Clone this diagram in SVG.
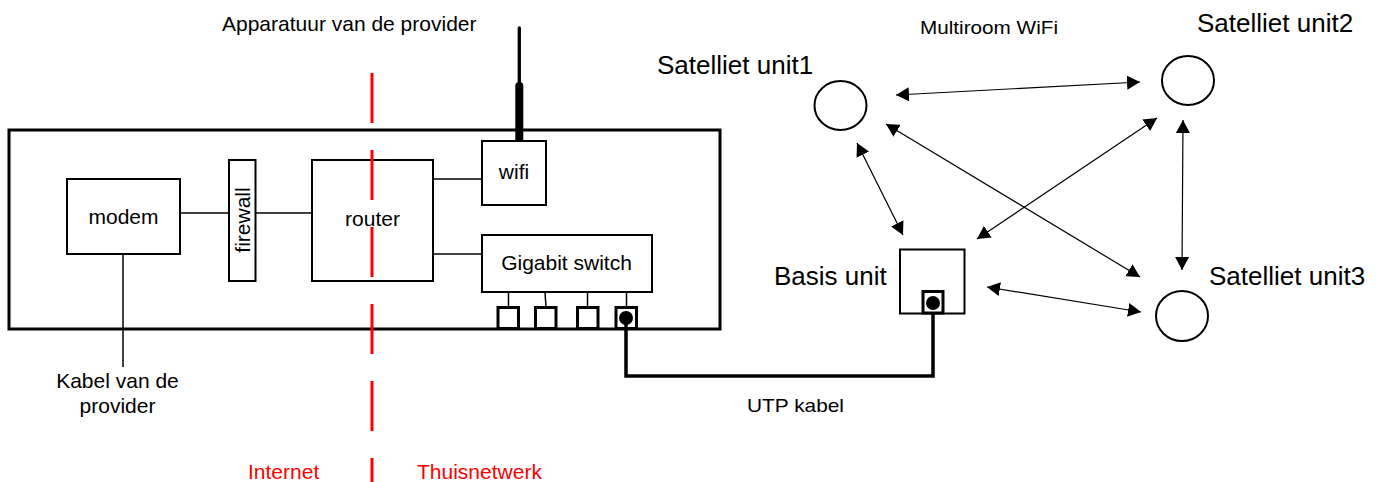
<svg xmlns="http://www.w3.org/2000/svg" width="1383" height="482" viewBox="0 0 1383 482">
<style>
  text { font-family: "Liberation Sans", Arial, sans-serif; fill: #000; }
  .t21 { font-size: 21px; }
  .t26 { font-size: 26px; }
  .red { fill: #ff0000; }
  .box { fill: #fff; stroke: #000; stroke-width: 2; }
  .thin { stroke: #000; stroke-width: 1.5; fill: none; }
  .port { fill: #fff; stroke: #000; stroke-width: 3; }
  .arrow { stroke: #000; stroke-width: 1.2; fill: none; marker-start: url(#ah); marker-end: url(#ah); }
  .sat { fill: #fff; stroke: #000; stroke-width: 2; }
</style>
<defs>
  <marker id="ah" markerUnits="userSpaceOnUse" markerWidth="14" markerHeight="14" viewBox="0 0 14 14" refX="13" refY="7" orient="auto-start-reverse">
    <path d="M0,0 L13,7 L0,14 Z" fill="#000"/>
  </marker>
</defs>
<rect width="1383" height="482" fill="#fff"/>

<text class="t21" x="222" y="31">Apparatuur van de provider</text>

<g id="provider-box">
  <rect x="9" y="130" width="711" height="199" fill="none" stroke="#000" stroke-width="3"/>
</g>

<g id="connectors-inner">
  <line class="thin" x1="180" y1="213" x2="229" y2="213"/>
  <line class="thin" x1="255" y1="213" x2="312" y2="213"/>
  <line class="thin" x1="433" y1="179" x2="482" y2="179"/>
  <line class="thin" x1="433" y1="254" x2="482" y2="254"/>
  <line class="thin" x1="123" y1="254" x2="123" y2="367"/>
  <line class="thin" x1="508.5" y1="292" x2="508.5" y2="307"/>
  <line class="thin" x1="545" y1="292" x2="546" y2="307"/>
  <line class="thin" x1="587.5" y1="292" x2="587.5" y2="307"/>
  <line class="thin" x1="626.5" y1="292" x2="626.5" y2="307"/>
</g>

<g id="antenna">
  <line x1="519.3" y1="28" x2="519.3" y2="90" stroke="#000" stroke-width="3.3" stroke-linecap="round"/>
  <line x1="519.3" y1="86" x2="519.3" y2="141" stroke="#000" stroke-width="8" stroke-linecap="round"/>
</g>

<g id="modem">
  <rect class="box" x="67" y="179" width="113" height="75"/>
  <text class="t21" x="123.5" y="224" text-anchor="middle">modem</text>
</g>
<g id="firewall">
  <rect class="box" x="229" y="160" width="26.5" height="121"/>
  <text class="t21" transform="translate(249.5,220) rotate(-90)" text-anchor="middle">firewall</text>
</g>
<g id="router">
  <rect class="box" x="312" y="160" width="121" height="121"/>
  <text class="t21" x="372.5" y="226" text-anchor="middle">router</text>
</g>
<g id="wifi">
  <rect class="box" x="482" y="141" width="64" height="64"/>
  <text class="t21" x="514" y="179" text-anchor="middle">wifi</text>
</g>
<g id="gigabit-switch">
  <rect class="box" x="482" y="235" width="170" height="57"/>
  <text class="t21" x="566.5" y="270" text-anchor="middle">Gigabit switch</text>
</g>
<g id="ports">
  <rect class="port" x="498" y="307.5" width="20.5" height="21"/>
  <rect class="port" x="535.5" y="307.5" width="20.5" height="21"/>
  <rect class="port" x="577.5" y="307.5" width="20.5" height="21"/>
  <rect class="port" x="616" y="307.5" width="20.5" height="21"/>
  <circle cx="626" cy="318" r="7" fill="#000"/>
</g>

<g id="divider">
  <line x1="372" y1="73" x2="372" y2="482" stroke="#ff0000" stroke-width="3" stroke-dasharray="50 27"/>
  <text class="t21 red" x="248" y="479">Internet</text>
  <text class="t21 red" x="417" y="479">Thuisnetwerk</text>
</g>

<text class="t21" x="117.5" y="388" text-anchor="middle">Kabel van de</text>
<text class="t21" x="117.5" y="413" text-anchor="middle">provider</text>

<g id="utp-cable">
  <polyline points="626,318 626,376 933,376 933,303" fill="none" stroke="#000" stroke-width="3.5" stroke-linejoin="miter"/>
  <text x="747" y="412" font-size="19" textLength="97" lengthAdjust="spacingAndGlyphs">UTP kabel</text>
</g>

<g id="basis-unit">
  <rect class="box" x="900" y="249.5" width="64.5" height="64"/>
  <rect class="port" x="923" y="291.5" width="20" height="21.5"/>
  <circle cx="933" cy="303" r="7" fill="#000"/>
  <text class="t26" x="774" y="285">Basis unit</text>
</g>

<g id="satelliet-unit1">
  <ellipse class="sat" cx="840.5" cy="105.5" rx="26" ry="24.5"/>
  <text class="t26" x="657" y="74">Satelliet unit1</text>
</g>
<g id="satelliet-unit2">
  <ellipse class="sat" cx="1188" cy="80.5" rx="26" ry="24.5"/>
  <text class="t26" x="1197" y="32">Satelliet unit2</text>
</g>
<g id="satelliet-unit3">
  <ellipse class="sat" cx="1182" cy="316" rx="26" ry="25"/>
  <text class="t26" x="1209" y="285">Satelliet unit3</text>
</g>

<text x="920" y="34" font-size="19" textLength="138" lengthAdjust="spacingAndGlyphs">Multiroom WiFi</text>

<g id="connectors">
  <line class="arrow" x1="896" y1="95" x2="1140" y2="82"/>
  <line class="arrow" x1="886" y1="124" x2="1140" y2="277"/>
  <line class="arrow" x1="857" y1="143" x2="903" y2="235"/>
  <line class="arrow" x1="1157" y1="118" x2="977" y2="239"/>
  <line class="arrow" x1="1183" y1="120" x2="1182" y2="270"/>
  <line class="arrow" x1="987" y1="287" x2="1141" y2="312"/>
</g>
</svg>
